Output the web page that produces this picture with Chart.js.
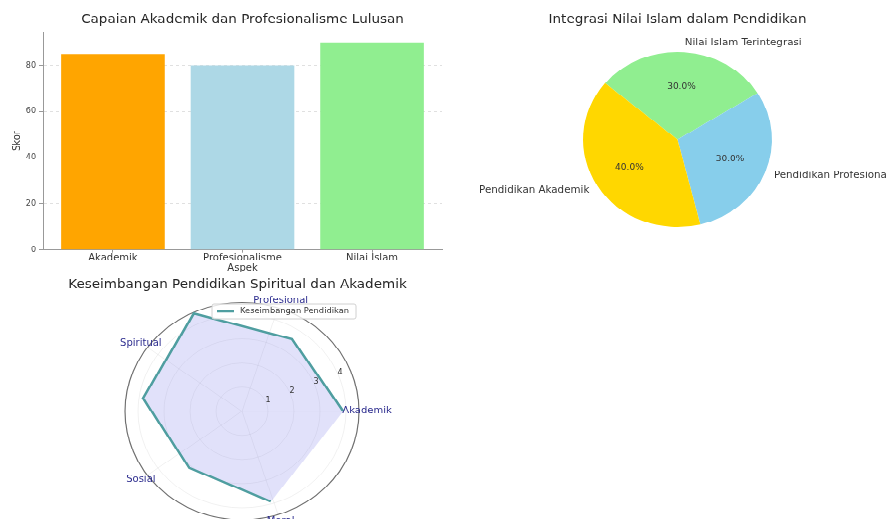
<!DOCTYPE html>
<html><head><meta charset="utf-8">
<script src="https://cdn.jsdelivr.net/npm/chart.js@4.4.1/dist/chart.umd.min.js"></script>
<style>
html,body{margin:0;padding:0;background:#fff;overflow:hidden;width:887px;height:519px}
#fig{position:absolute;left:0;top:0;width:887px;height:560px;transform:scaleY(0.9268);transform-origin:0 0}
canvas{position:absolute;display:block}
</style></head><body>
<div id="fig">
<canvas id="bar" width="450" height="296" style="left:0;top:0"></canvas>
<canvas id="pie" width="437" height="290" style="left:450px;top:0"></canvas>
<canvas id="radar" width="450" height="281" style="left:0;top:280px"></canvas>
</div>
<script>
// ---------- data ----------
const barTitle = 'Capaian Akademik dan Profesionalisme Lulusan';
const barCategories = ['Akademik', 'Profesionalisme', 'Nilai Islam'];
const barValues = [85, 80, 90];
const barColors = ['#FFA500', '#ADD8E6', '#90EE90'];
const barYTicks = [0, 20, 40, 60, 80];
const barXTitle = 'Aspek';
const barYTitle = 'Skor';

const pieTitle = 'Integrasi Nilai Islam dalam Pendidikan';
const pieLabels = ['Nilai Islam Terintegrasi', 'Pendidikan Profesional', 'Pendidikan Akademik'];
const pieValues = [30, 30, 40];
const pieColors = ['#90EE90', '#87CEEB', '#FFD700'];

const radarTitle = 'Keseimbangan Pendidikan Spiritual dan Akademik';
const radarCategories = ['Akademik', 'Profesional', 'Spiritual', 'Sosial', 'Moral'];
const radarAngles = [0, 1, 2, 3, 4, 5];            // radians, as plotted in the original
const radarValues = [3.9, 3.55, 4.45, 3.85, 3.1, 3.9]; // last point repeats the first value
const radarTicks = [1, 2, 3, 4];
const radarMax = 4.5;
const radarSeries = 'Keseimbangan Pendidikan';

// ---------- helpers ----------
const FONT = '"DejaVu Sans", sans-serif';
Chart.defaults.font.family = FONT;
Chart.defaults.color = '#333';

function titlePlugin(text, x, y) {
  return {
    id: 'figTitle',
    afterDraw(chart) {
      const ctx = chart.ctx;
      ctx.save();
      ctx.font = '13.5px ' + FONT;
      ctx.fillStyle = '#262626';
      ctx.textAlign = 'center';
      ctx.textBaseline = 'middle';
      ctx.fillText(text, x, y);
      ctx.restore();
    }
  };
}

// ---------- bar ----------
new Chart(document.getElementById('bar'), {
  type: 'bar',
  data: {
    datasets: [{
      label: barYTitle,
      data: barValues.map((v, i) => ({x: i, y: v})),
      backgroundColor: barColors,
      borderWidth: 0,
      barPercentage: 0.8,
      categoryPercentage: 1
    }]
  },
  options: {
    responsive: false, animation: false,
    layout: {padding: {top: 34.5, right: 8, left: 0, bottom: 0}},
    plugins: {legend: {display: false}, tooltip: {enabled: false}},
    scales: {
      x: {
        type: 'linear', min: -0.54, max: 2.54, offset: false,
        afterBuildTicks: s => { s.ticks = barCategories.map((c, i) => ({value: i})); },
        afterFit: s => { s.height = 26.3; },
        ticks: {callback: v => barCategories[v], font: {size: 10}, color: '#333', padding: 0, maxRotation: 0, autoSkip: false},
        grid: {offset: false, drawOnChartArea: false, drawTicks: true, tickLength: 3, tickColor: '#999'},
        border: {color: '#999', width: 1},
        title: {display: true, text: barXTitle, font: {size: 10}, color: '#333', padding: {top: 0, bottom: 1}}
      },
      y: {
        min: 0, max: 94.5,
        afterBuildTicks: s => { s.ticks = barYTicks.map(v => ({value: v})); },
        afterFit: s => { s.width = 43; },
        ticks: {font: {size: 8}, color: '#444', padding: 3},
        grid: {color: 'rgba(0,0,0,0.12)', tickColor: '#999', tickLength: 4, tickBorderDash: [], tickWidth: 1},
        border: {color: '#999', width: 1, dash: [3, 3]},
        title: {display: true, text: barYTitle, font: {size: 10}, color: '#333', padding: {top: 11, bottom: 0}}
      }
    }
  },
  plugins: [titlePlugin(barTitle, 242.5, 21.6)]
});

// ---------- pie ----------
const pieLabelPlugin = {
  id: 'pieLabels',
  afterDatasetsDraw(chart) {
    const meta = chart.getDatasetMeta(0);
    const ds = chart.data.datasets[0];
    const total = ds.data.reduce((a, b) => a + b, 0);
    const ctx = chart.ctx;
    ctx.save();
    ctx.textBaseline = 'middle';
    meta.data.forEach((arc, i) => {
      const p = arc.getProps(['x', 'y', 'startAngle', 'endAngle', 'outerRadius'], true);
      const mid = (p.startAngle + p.endAngle) / 2;
      const c = Math.cos(mid), s = Math.sin(mid);
      ctx.fillStyle = '#333';
      ctx.font = '10.3px ' + FONT;
      ctx.textAlign = c > 0 ? 'left' : 'right';
      ctx.fillText(chart.data.labels[i], p.x + c * p.outerRadius * 1.1, p.y + s * p.outerRadius * 1.1);
      ctx.font = '9px ' + FONT;
      ctx.textAlign = 'center';
      ctx.fillText((ds.data[i] / total * 100).toFixed(1) + '%', p.x + c * p.outerRadius * 0.6, p.y + s * p.outerRadius * 0.6);
    });
    ctx.restore();
  }
};
new Chart(document.getElementById('pie'), {
  type: 'pie',
  data: {labels: pieLabels, datasets: [{data: pieValues, backgroundColor: pieColors, borderWidth: 0}]},
  options: {
    responsive: false, animation: false,
    rotation: -50,
    layout: {padding: {left: 133, right: 115, top: 56, bottom: 45}},
    plugins: {legend: {display: false}, tooltip: {enabled: false}}
  },
  plugins: [titlePlugin(pieTitle, 227.5, 21.6), pieLabelPlugin]
});

// ---------- polar (radar-style) ----------
const radarLine = '#4f9ea0';
const radarDecor = {
  id: 'radarDecor',
  beforeDatasetsDraw(chart) {
    const X = chart.scales.x, Y = chart.scales.y, ctx = chart.ctx;
    const cx = X.getPixelForValue(0), cy = Y.getPixelForValue(0);
    const rx = v => X.getPixelForValue(v) - cx, ry = v => cy - Y.getPixelForValue(v);
    ctx.save();
    // spokes at category angles
    ctx.strokeStyle = 'rgba(0,0,0,0.08)';
    ctx.lineWidth = 0.8;
    radarCategories.forEach((c, k) => {
      const a = k * 2 * Math.PI / radarCategories.length;
      ctx.beginPath();
      ctx.moveTo(cx, cy);
      ctx.lineTo(cx + Math.cos(a) * rx(radarMax), cy - Math.sin(a) * ry(radarMax));
      ctx.stroke();
    });
    // inner circles
    radarTicks.forEach(v => {
      ctx.beginPath();
      ctx.ellipse(cx, cy, rx(v), ry(v), 0, 0, 2 * Math.PI);
      ctx.stroke();
    });
    // outer circle (spine)
    ctx.strokeStyle = '#707070';
    ctx.lineWidth = 1.2;
    ctx.beginPath();
    ctx.ellipse(cx, cy, rx(radarMax), ry(radarMax), 0, 0, 2 * Math.PI);
    ctx.stroke();
    ctx.restore();
  },
  afterDatasetsDraw(chart) {
    const X = chart.scales.x, Y = chart.scales.y, ctx = chart.ctx;
    const cx = X.getPixelForValue(0), cy = Y.getPixelForValue(0);
    const rx = v => X.getPixelForValue(v) - cx, ry = v => cy - Y.getPixelForValue(v);
    ctx.save();
    ctx.textAlign = 'center';
    ctx.textBaseline = 'middle';
    ctx.font = '10px ' + FONT;
    ctx.fillStyle = '#2e2e8f';
    radarCategories.forEach((c, k) => {
      const a = k * 2 * Math.PI / radarCategories.length;
      ctx.fillText(c, cx + Math.cos(a) * (rx(radarMax) + 8), cy - Math.sin(a) * (ry(radarMax) + 8));
    });
    ctx.fillStyle = '#333';
    ctx.font = '8px ' + FONT;
    const ta = 22.5 * Math.PI / 180;
    radarTicks.forEach(v => {
      ctx.fillText(String(v), cx + Math.cos(ta) * rx(v) + 2, cy - Math.sin(ta) * ry(v) - 2);
    });
    // legend
    const ds = chart.data.datasets[0];
    const lx = 212, ly = 48, lw = 144, lh = 16;
    ctx.fillStyle = 'rgba(255,255,255,0.8)';
    ctx.strokeStyle = '#d0d0d0';
    ctx.lineWidth = 1;
    ctx.beginPath();
    ctx.roundRect(lx, ly, lw, lh, 2);
    ctx.fill(); ctx.stroke();
    ctx.strokeStyle = ds.borderColor;
    ctx.lineWidth = 2.5;
    ctx.beginPath();
    ctx.moveTo(lx + 5, ly + lh / 2);
    ctx.lineTo(lx + 22, ly + lh / 2);
    ctx.stroke();
    ctx.fillStyle = '#333';
    ctx.font = '8.3px ' + FONT;
    ctx.textAlign = 'left';
    ctx.fillText(ds.label, lx + 28, ly + lh / 2);
    ctx.restore();
  }
};
new Chart(document.getElementById('radar'), {
  type: 'scatter',
  data: {
    datasets: [{
      label: radarSeries,
      data: radarValues.map((r, k) => ({x: r * Math.cos(radarAngles[k]), y: r * Math.sin(radarAngles[k])})),
      showLine: true,
      tension: 0,
      borderColor: radarLine,
      backgroundColor: 'rgba(120,120,230,0.22)',
      borderWidth: 2.5,
      pointRadius: 0,
      fill: 'shape'
    }]
  },
  options: {
    responsive: false, animation: false,
    layout: {padding: {left: 125, right: 91, top: 46.5, bottom: 0}},
    plugins: {legend: {display: false}, tooltip: {enabled: false}},
    scales: {
      x: {type: 'linear', min: -radarMax, max: radarMax, display: false},
      y: {type: 'linear', min: -radarMax, max: radarMax, display: false}
    }
  },
  plugins: [titlePlugin(radarTitle, 237.5, 27.5), radarDecor]
});
</script>
</body></html>
